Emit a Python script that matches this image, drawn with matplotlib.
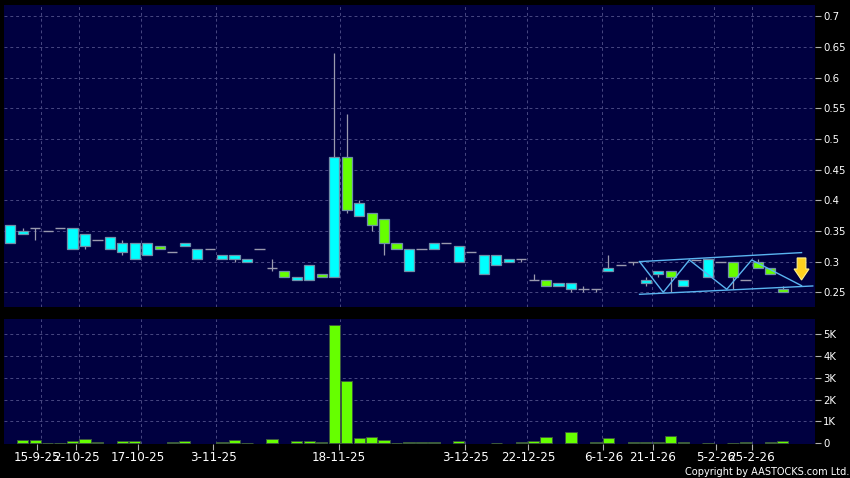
import matplotlib
matplotlib.use('Agg')
import matplotlib.pyplot as plt
from matplotlib.patches import Polygon
import numpy as np

# daily candles, oldest first
opens = [0.33, 0.345, 0.355, 0.35, 0.355, 0.32, 0.325, 0.335, 0.32, 0.315,
         0.305, 0.31, 0.325, 0.315, 0.325, 0.305, 0.32, 0.305, 0.305, 0.30,
         0.32, 0.29, 0.285, 0.27, 0.27, 0.28, 0.275, 0.47, 0.375, 0.38,
         0.37, 0.33, 0.285, 0.32, 0.32, 0.33, 0.30, 0.315, 0.28, 0.295,
         0.30, 0.305, 0.27, 0.27, 0.26, 0.255, 0.255, 0.255, 0.285, 0.295,
         0.30, 0.265, 0.28, 0.285, 0.26, 0.303, 0.275, 0.30, 0.30, 0.27,
         0.30, 0.29, 0.255]
highs = [0.36, 0.355, 0.355, 0.35, 0.355, 0.355, 0.345, 0.335, 0.34, 0.335,
         0.33, 0.33, 0.325, 0.315, 0.33, 0.32, 0.32, 0.31, 0.31, 0.305,
         0.32, 0.305, 0.285, 0.275, 0.295, 0.28, 0.64, 0.54, 0.40, 0.38,
         0.37, 0.33, 0.32, 0.32, 0.33, 0.33, 0.325, 0.315, 0.31, 0.31,
         0.305, 0.305, 0.28, 0.27, 0.265, 0.265, 0.26, 0.255, 0.31, 0.295,
         0.30, 0.275, 0.285, 0.285, 0.27, 0.303, 0.305, 0.30, 0.30, 0.27,
         0.305, 0.29, 0.26]
lows = [0.33, 0.345, 0.335, 0.35, 0.355, 0.32, 0.32, 0.335, 0.32, 0.31,
        0.305, 0.31, 0.32, 0.315, 0.325, 0.305, 0.32, 0.305, 0.30, 0.30,
        0.32, 0.285, 0.275, 0.27, 0.27, 0.275, 0.275, 0.38, 0.375, 0.35,
        0.31, 0.32, 0.285, 0.32, 0.32, 0.33, 0.30, 0.315, 0.28, 0.295,
        0.30, 0.30, 0.27, 0.26, 0.26, 0.25, 0.25, 0.25, 0.285, 0.295,
        0.295, 0.26, 0.275, 0.25, 0.26, 0.303, 0.275, 0.30, 0.255, 0.27,
        0.29, 0.28, 0.25]
closes = [0.36, 0.35, 0.355, 0.35, 0.355, 0.355, 0.345, 0.335, 0.34, 0.33,
          0.33, 0.33, 0.32, 0.315, 0.33, 0.32, 0.32, 0.31, 0.31, 0.305,
          0.32, 0.29, 0.275, 0.275, 0.295, 0.275, 0.47, 0.385, 0.395, 0.36,
          0.33, 0.32, 0.32, 0.32, 0.33, 0.33, 0.325, 0.315, 0.31, 0.31,
          0.305, 0.305, 0.27, 0.26, 0.265, 0.265, 0.255, 0.255, 0.29, 0.295,
          0.30, 0.27, 0.285, 0.275, 0.27, 0.303, 0.305, 0.30, 0.275, 0.27,
          0.29, 0.28, 0.25]
volumes = [0, 150, 150, 15, 30, 120, 200, 60, 0, 100,
           90, 0, 0, 60, 90, 0, 0, 50, 150, 10,
           0, 200, 0, 100, 100, 50, 5400, 2850, 260, 270,
           150, 10, 50, 50, 50, 0, 90, 0, 0, 20,
           0, 50, 90, 290, 0, 520, 0, 50, 240, 0,
           50, 50, 50, 320, 60, 0, 10, 0, 10, 40,
           0, 50, 90]

date_pos = [2.15, 5.3, 10.25, 16.3, 26.4, 36.5, 41.55, 47.6, 51.55, 56.65, 59.5]
date_labels = ['15-9-25', '2-10-25', '17-10-25', '3-11-25', '18-11-25', '3-12-25',
               '22-12-25', '6-1-26', '21-1-26', '5-2-26', '25-2-26']
grid_pos = [2.5, 5.5, 10.5, 16.5, 26.5, 36.5, 41.5, 47.5, 51.5, 56.5, 59.5]

price_ticks = [0.25, 0.3, 0.35, 0.4, 0.45, 0.5, 0.55, 0.6, 0.65, 0.7]
price_labels = ['0.25', '0.3', '0.35', '0.4', '0.45', '0.5', '0.55', '0.6', '0.65', '0.7']
vol_ticks = [0, 1000, 2000, 3000, 4000, 5000]
vol_labels = ['0', '1K', '2K', '3K', '4K', '5K']

# drawn channel
upper_x = [50.5, 63.5]
upper_y = [0.300, 0.3147]
lower_x = [50.5, 64.4]
lower_y = [0.2467, 0.2603]
zig_x = [50.5, 52.4, 54.5, 57.5, 59.5, 63.5]
zig_y = [0.300, 0.250, 0.3027, 0.2549, 0.3027, 0.2608]
arrow_x = 63.5
arrow_top = 0.306
arrow_bottom = 0.270

bg = '#000040'
gridc = '#484882'
up_c = '#00ffff'
down_c = '#66ff00'
edge_c = '#6f8fa8'
wick_c = '#9a9aae'
line_c = '#5ab4f0'

fig = plt.figure(figsize=(8.5, 4.78), dpi=100, facecolor='black')
ax = fig.add_axes([4/850, 1-307/478, 811/850, 302/478])
ax2 = fig.add_axes([4/850, 1-444/478, 811/850, 125/478])

x = np.arange(len(opens))
o = np.array(opens)
c = np.array(closes)
h = np.array(highs)
l = np.array(lows)

for a in (ax, ax2):
    a.set_facecolor(bg)
    for s in a.spines.values():
        s.set_visible(False)
    for g in grid_pos:
        a.axvline(g, color=gridc, lw=0.7, ls=(0, (3, 3)), zorder=0)

for p in price_ticks:
    ax.axhline(p, color=gridc, lw=0.7, ls=(0, (3, 3)), zorder=0)
for v in vol_ticks[1:]:
    ax2.axhline(v, color=gridc, lw=0.7, ls=(0, (3, 3)), zorder=0)

# wicks
ax.vlines(x, l, h, color=wick_c, lw=0.9, zorder=1)

up = c > o
dn = c < o
eq = c == o
w = 0.82
ax.bar(x[up], (c - o)[up], bottom=o[up], width=w, color=up_c,
       edgecolor=edge_c, linewidth=0.9, zorder=2)
ax.bar(x[dn], (o - c)[dn], bottom=c[dn], width=w, color=down_c,
       edgecolor=edge_c, linewidth=0.9, zorder=2)
ax.hlines(c[eq], x[eq] - w/2, x[eq] + w/2, color=wick_c, lw=1.0, zorder=2)

# channel lines
ax.plot(upper_x, upper_y, color=line_c, lw=1.0, zorder=3)
ax.plot(lower_x, lower_y, color=line_c, lw=1.0, zorder=3)
ax.plot(zig_x, zig_y, color=line_c, lw=1.0, zorder=3)

# arrow (down)
hw = 0.6
sw = 0.35
mid = arrow_bottom + (arrow_top - arrow_bottom) * 0.5
pts = [(arrow_x - sw, arrow_top), (arrow_x + sw, arrow_top), (arrow_x + sw, mid),
       (arrow_x + hw, mid), (arrow_x, arrow_bottom), (arrow_x - hw, mid),
       (arrow_x - sw, mid)]
ax.add_patch(Polygon(pts, closed=True, facecolor='#ffd21e', edgecolor='#fff08a',
                     linewidth=0.8, zorder=4))

ax.set_xlim(-0.5, 64.58)
ax.set_ylim(0.226, 0.7185)
ax.set_xticks([])
ax.yaxis.tick_right()
ax.set_yticks(price_ticks)
ax.set_yticklabels(price_labels)
ax.tick_params(axis='y', colors='#b0b0b0', labelcolor='white', length=4,
               width=0.8, pad=2, labelsize=7.3)

vx = x[np.array(volumes) > 0]
vv = np.array(volumes)[np.array(volumes) > 0]
ax2.bar(vx, vv, width=0.9, color=down_c, edgecolor='#3c5a3c', linewidth=0.7, zorder=2)
ax2.set_xlim(-0.5, 64.58)
ax2.set_ylim(-30, 5680)
ax2.yaxis.tick_right()
ax2.set_yticks(vol_ticks)
ax2.set_yticklabels(vol_labels)
ax2.tick_params(axis='y', colors='#b0b0b0', labelcolor='white', length=4,
                width=0.8, pad=2, labelsize=7.3)
ax2.set_xticks(date_pos)
ax2.set_xticklabels(date_labels)
ax2.tick_params(axis='x', colors='#b0b0b0', labelcolor='white', length=4,
                width=0.8, pad=1, labelsize=8.6)

fig.text(849/850, 1-472/478, 'Copyright by AASTOCKS.com Ltd.', color='white',
         fontsize=7.8, fontstretch='condensed', ha='right', va='center')

plt.savefig('out.png', dpi=100, facecolor='black')
